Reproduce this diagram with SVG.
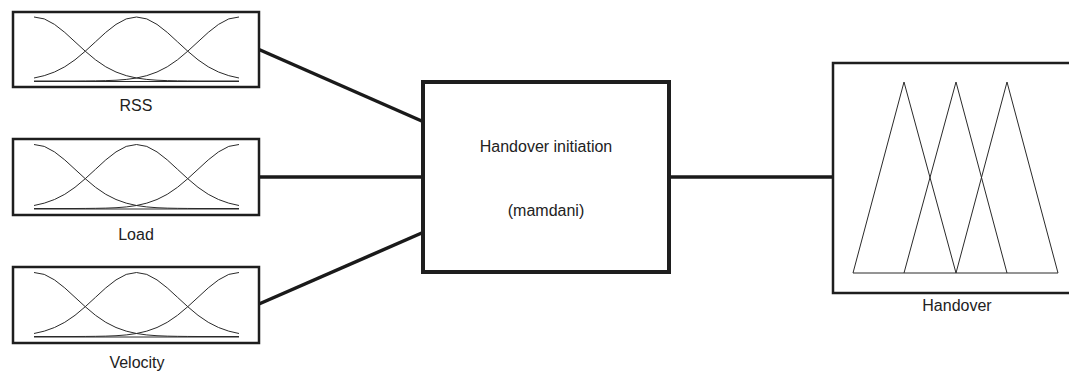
<svg xmlns="http://www.w3.org/2000/svg" xmlns:xlink="http://www.w3.org/1999/xlink" width="1069" height="372" viewBox="0 0 1069 372">
<style>
.box{fill:#fff;stroke:#1e1e1e;stroke-width:2.5}
.main{fill:#fff;stroke:#1e1e1e;stroke-width:4}
.mf{fill:none;stroke:#2a2a2a;stroke-width:1;stroke-linejoin:round}
.conn{stroke:#1a1a1a;stroke-width:3.5;fill:none}
.lbl{font-family:"Liberation Sans",Arial,sans-serif;font-size:16px;fill:#222;text-anchor:middle}
</style>
<defs>
<g id="gauss">
<polyline class="mf" points="34,17 44.25,18.9 54.5,24.4 64.75,32.4 75,41.8 85.25,51.2 95.5,59.8 105.75,66.8 116,72 126.25,75.65 136.5,78 146.75,79.43 157,80.23 167.25,80.64 177.5,80.84 187.75,80.94 198,81 239,81"/>
<polyline class="mf" points="239,17 228.75,18.9 218.5,24.4 208.25,32.4 198,41.8 187.75,51.2 177.5,59.8 167.25,66.8 157,72 146.75,75.65 136.5,78 126.25,79.43 116,80.23 105.75,80.64 95.5,80.84 85.25,80.94 75,81 34,81"/>
<polyline class="mf" points="34,78 44.25,75.65 54.5,72 64.75,66.8 75,59.8 85.25,51.2 95.5,41.8 105.75,32.4 116,24.4 126.25,18.9 136.5,17 146.75,18.9 157,24.4 167.25,32.4 177.5,41.8 187.75,51.2 198,59.8 208.25,66.8 218.5,72 228.75,75.65 239,78"/>
<line class="mf" x1="34" y1="81.5" x2="239" y2="81.5"/>
</g>
</defs>
<g id="connectors">
<line class="conn" x1="259" y1="49.5" x2="424" y2="122"/>
<line class="conn" x1="259" y1="177" x2="424" y2="177"/>
<line class="conn" x1="259" y1="304" x2="424" y2="232"/>
<line class="conn" x1="669" y1="177" x2="834" y2="177"/>
</g>
<g id="rss">
<rect class="box" x="13" y="12" width="246" height="75"/>
<use xlink:href="#gauss"/>
<text class="lbl" x="136" y="111">RSS</text>
</g>
<g id="load">
<rect class="box" x="13" y="139" width="246" height="76"/>
<use xlink:href="#gauss" transform="translate(0,127.5)"/>
<text class="lbl" x="136" y="240">Load</text>
</g>
<g id="velocity">
<rect class="box" x="13" y="267" width="246" height="76"/>
<use xlink:href="#gauss" transform="translate(0,255.5)"/>
<text class="lbl" x="137" y="368">Velocity</text>
</g>
<g id="inference">
<rect class="main" x="423" y="82" width="246" height="190"/>
<text class="lbl" x="546" y="152">Handover initiation</text>
<text class="lbl" x="546" y="216">(mamdani)</text>
</g>
<g id="handover">
<rect class="box" x="833" y="63" width="245" height="230"/>
<polyline class="mf" points="853,273 904,82 956,273 1007,82 1058,273 853,273"/>
<polyline class="mf" points="904,273 956,82 1007,273"/>
<text class="lbl" x="957" y="311">Handover</text>
</g>
</svg>
